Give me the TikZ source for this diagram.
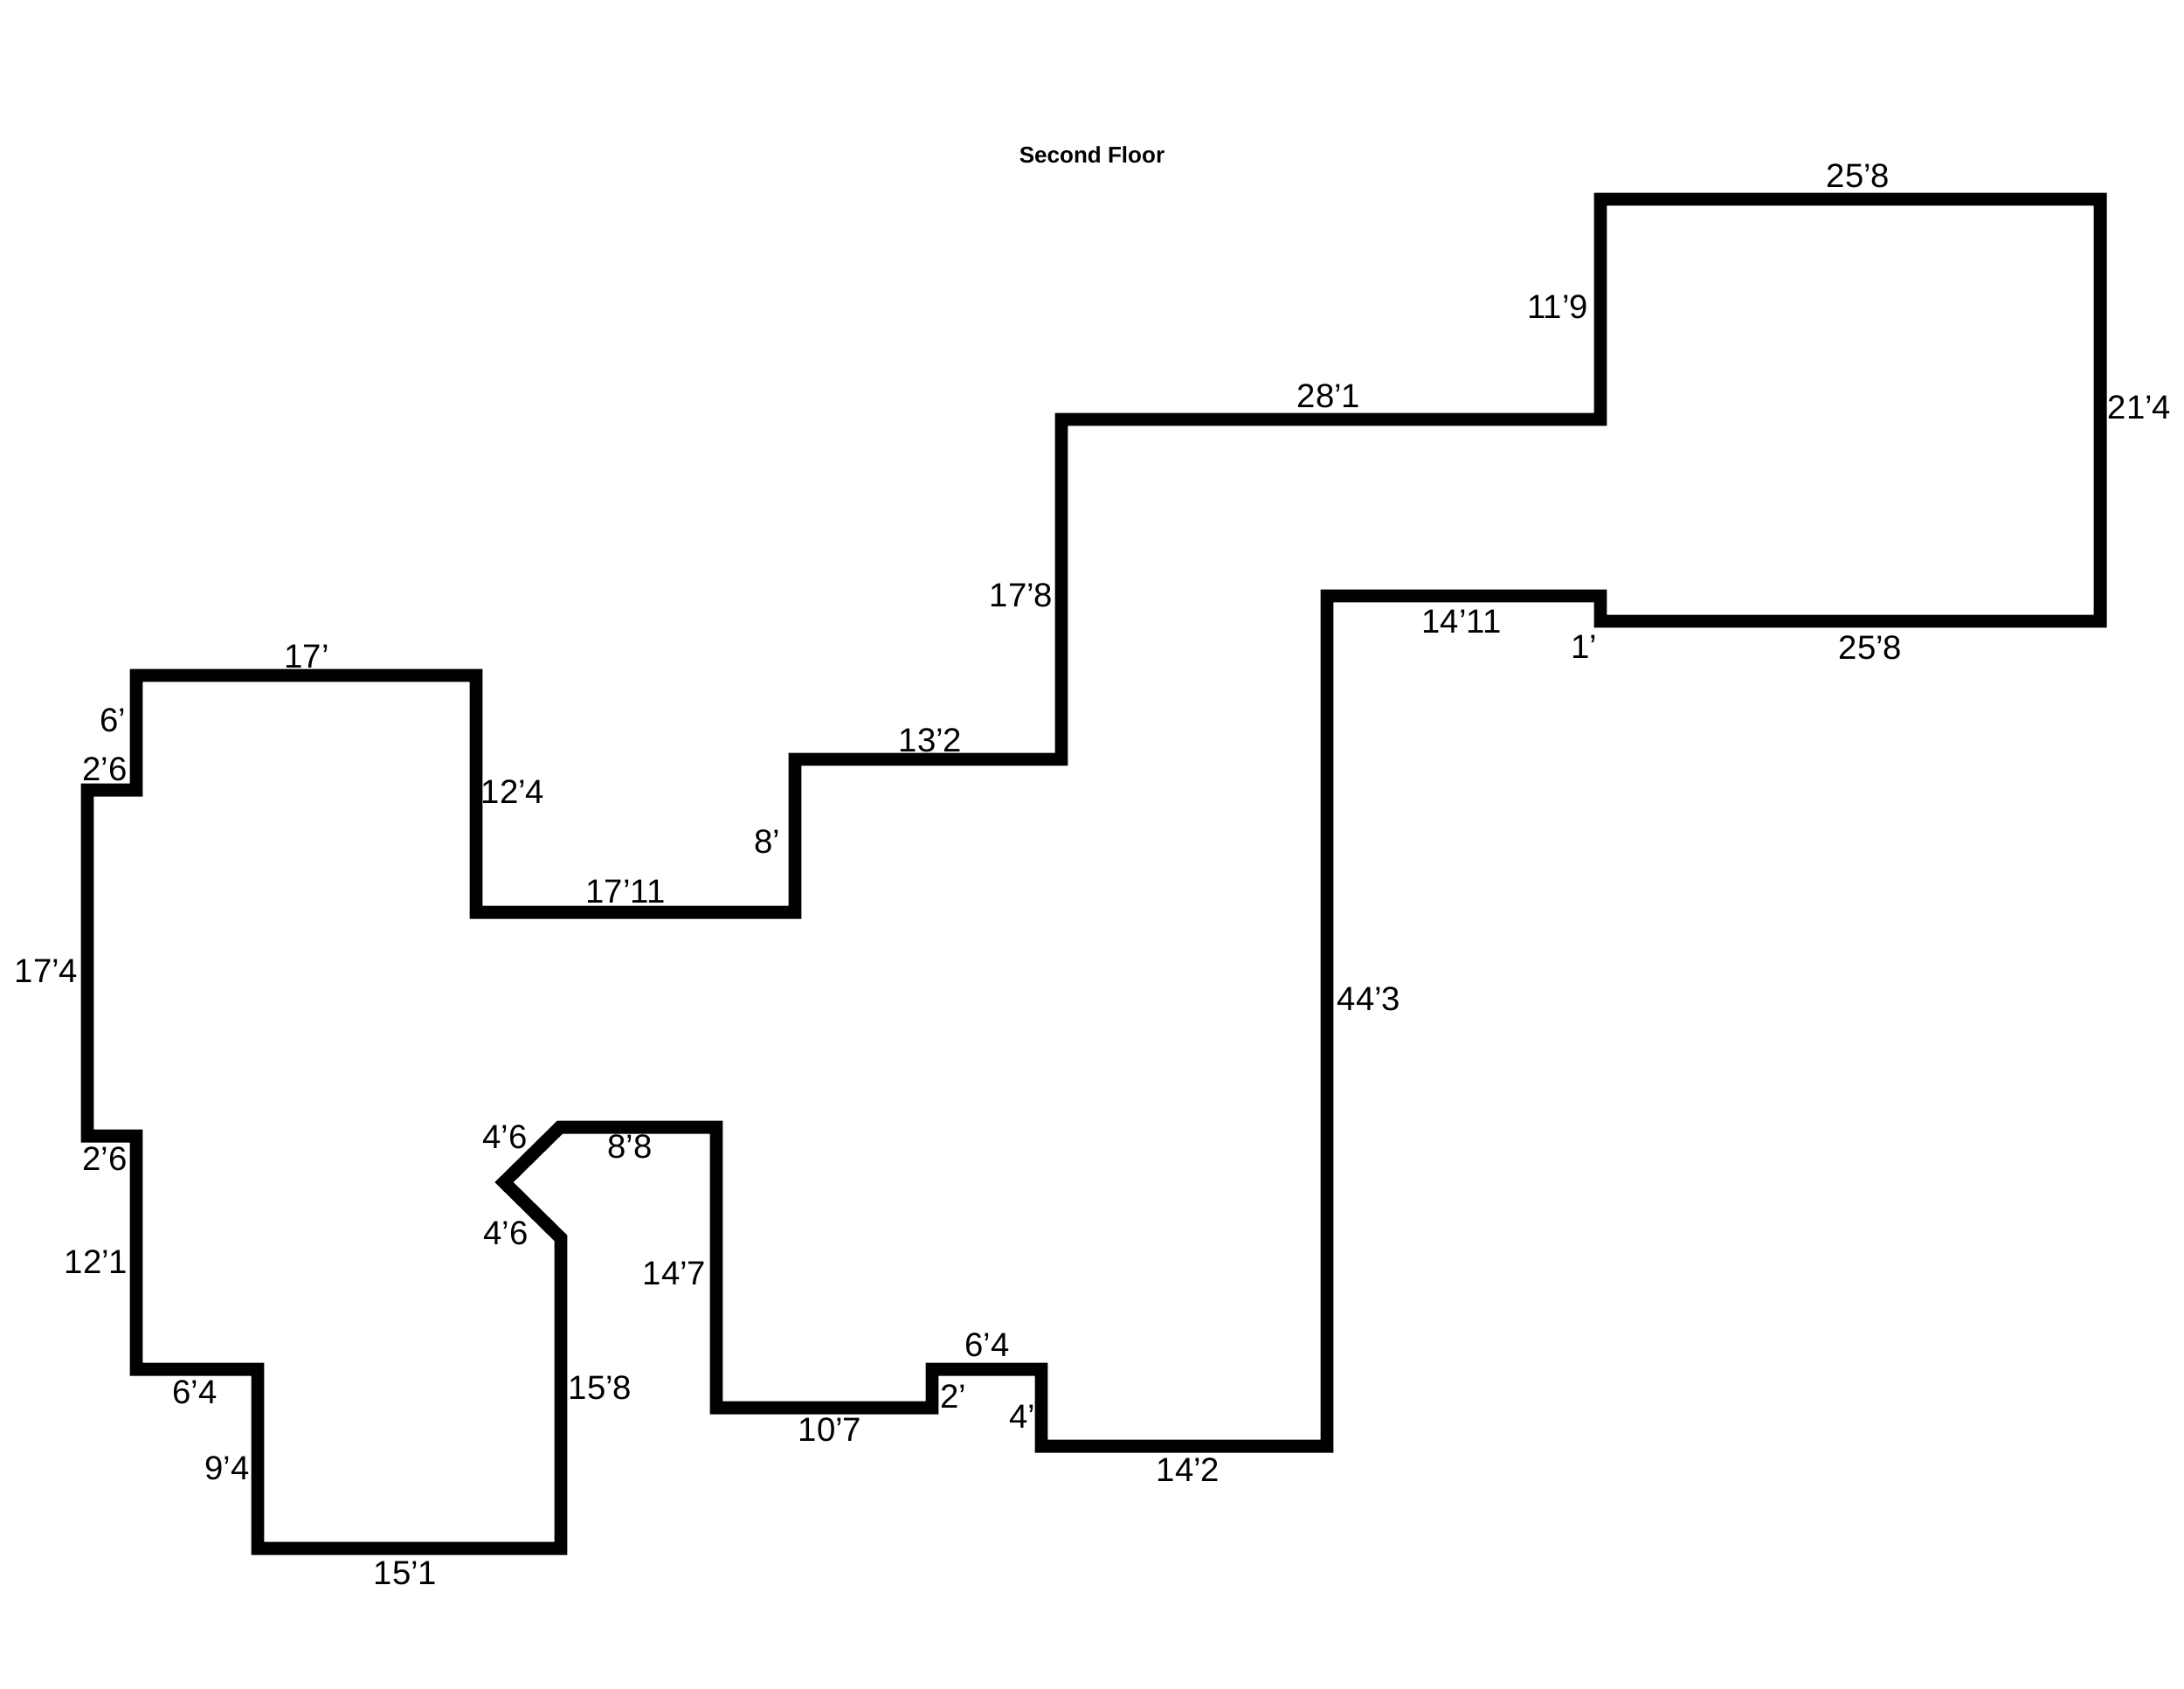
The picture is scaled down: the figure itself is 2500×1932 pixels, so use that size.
\documentclass[tikz,border=0pt]{standalone}
\usepackage{fontspec}
\setmainfont{Liberation Sans}
\tikzset{
  wall/.style={draw=black,line width=4.25pt,miter limit=10,line join=miter},
  dim/.style={inner sep=0pt,font=\fontsize{10.9pt}{12pt}\selectfont,text height=7.8pt,text depth=0pt,anchor=center,text=black},
  ttl/.style={inner sep=0pt,font=\fontsize{7.4pt}{10pt}\selectfont\bfseries,text height=5.3pt,text depth=0pt,anchor=center,text=black}
}
\begin{document}
\begin{tikzpicture}[x=0.01cm,y=-0.01cm]
\useasboundingbox (0,0) rectangle (2500,1932);
\draw[wall] (1832,228) -- (2404,228) -- (2404,711) -- (1832,711) -- (1832,682) -- (1519,682)
 -- (1519,1655) -- (1192,1655) -- (1192,1567) -- (1067,1567) -- (1067,1611) -- (820,1611)
 -- (820,1290) -- (641,1290) -- (577,1353) -- (642,1417) -- (642,1772) -- (295,1772)
 -- (295,1567) -- (156,1567) -- (156,1300) -- (100,1300) -- (100,904) -- (156,904)
 -- (156,773) -- (545,773) -- (545,1044) -- (910,1044) -- (910,869) -- (1215,869)
 -- (1215,480) -- (1832,480) -- cycle;
\node[ttl] (title) at (1250,177) {Second Floor};
\node[dim] (a1) at (2127,201) {25’8};
\node[dim] (a2) at (1783,351) {11’9};
\node[dim] (a3) at (1521,453) {28’1};
\node[dim] (a4) at (2449,466) {21’4};
\node[dim] (a5) at (1673,711) {14’11};
\node[dim] (a6) at (1813,740) {1’};
\node[dim] (a7) at (2141,741) {25’8};
\node[dim] (a8) at (1169,681) {17’8};
\node[dim] (a9) at (1567,1143) {44’3};
\node[dim] (a10) at (1065,847) {13’2};
\node[dim] (a11) at (351,751) {17’};
\node[dim] (a12) at (129,824) {6’};
\node[dim] (a13) at (120,880) {2’6};
\node[dim] (a14) at (587,906) {12’4};
\node[dim] (a15) at (878,963) {8’};
\node[dim] (a16) at (716,1020) {17’11};
\node[dim] (a17) at (53,1111) {17’4};
\node[dim] (a18) at (578,1301) {4’6};
\node[dim] (a19) at (721,1312) {8’8};
\node[dim] (a20) at (120,1326) {2’6};
\node[dim] (a21) at (579,1411) {4’6};
\node[dim] (a22) at (772,1457) {14’7};
\node[dim] (a23) at (110,1444) {12’1};
\node[dim] (a24) at (1130,1539) {6’4};
\node[dim] (a25) at (687,1588) {15’8};
\node[dim] (a26) at (223,1593) {6’4};
\node[dim] (a27) at (1091,1598) {2’};
\node[dim] (a28) at (1170,1621) {4’};
\node[dim] (a29) at (950,1636) {10’7};
\node[dim] (a30) at (1360,1682) {14’2};
\node[dim] (a31) at (260,1680) {9’4};
\node[dim] (a32) at (464,1800) {15’1};
\end{tikzpicture}
\end{document}
